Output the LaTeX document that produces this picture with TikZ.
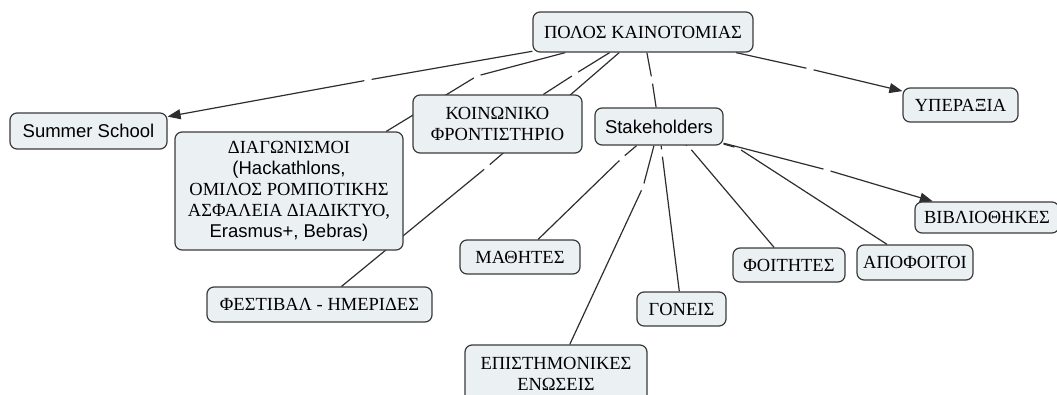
\documentclass[tikz,border=0pt]{standalone}
\usepackage{fontspec}
\setmainfont{Liberation Sans}
\newfontfamily\grk{Liberation Serif}
\usetikzlibrary{arrows.meta,backgrounds}
\definecolor{boxfill}{HTML}{EBF1F3}
\definecolor{boxline}{HTML}{3A3A3A}
\definecolor{linkline}{HTML}{2E2E2E}
\tikzset{
  concept/.style={draw=boxline, fill=boxfill, line width=1.2pt, rounded corners=7pt,
                  align=center, inner sep=0pt, font=\fontsize{18.5}{21}\selectfont},
  linkpt/.style={circle, inner sep=0pt, minimum size=7pt},
  conn/.style={draw=linkline, line width=1.2pt},
  arr/.style={conn, -{Triangle[length=13pt,width=10pt]}}
}
\begin{document}
\begin{tikzpicture}[x=1pt,y=-1pt]
  \useasboundingbox (0,0) rectangle (1057,394);
  % concepts
  \node[concept, minimum width=220pt, minimum height=40pt] (polos) at (643,32) {\grk ΠΟΛΟΣ ΚΑΙΝΟΤΟΜΙΑΣ};
  \node[concept, minimum width=115pt, minimum height=34pt] (yperaxia) at (960.5,105) {\grk ΥΠΕΡΑΞΙΑ};
  \node[concept, minimum width=128pt, minimum height=37pt] (stake) at (659,126.5) {Stakeholders};
  \node[concept, minimum width=169pt, minimum height=58pt] (koin) at (497.5,124) {\grk ΚΟΙΝΩΝΙΚΟ\\\grk ΦΡΟΝΤΙΣΤΗΡΙΟ};
  \node[concept, minimum width=157pt, minimum height=36pt] (summer) at (88.5,131) {Summer School};
  \node[concept, minimum width=228pt, minimum height=118pt] (diag) at (289,191)
    {{\grk ΔΙΑΓΩΝΙΣΜΟΙ}\\(Hackathlons,\\{\grk ΟΜΙΛΟΣ ΡΟΜΠΟΤΙΚΗΣ}\\{\grk ΑΣΦΑΛΕΙΑ ΔΙΑΔΙΚΤΥΟ,}\\Erasmus+, Bebras)};
  \node[concept, minimum width=225pt, minimum height=35pt] (fest) at (319.5,304.5) {\grk ΦΕΣΤΙΒΑΛ - ΗΜΕΡΙΔΕΣ};
  \node[concept, minimum width=120pt, minimum height=34pt] (math) at (520,257) {\grk ΜΑΘΗΤΕΣ};
  \node[concept, minimum width=182pt, minimum height=58pt] (epist) at (556,374) {\grk ΕΠΙΣΤΗΜΟΝΙΚΕΣ\\\grk ΕΝΩΣΕΙΣ};
  \node[concept, minimum width=89pt, minimum height=34pt] (goneis) at (681.5,309) {\grk ΓΟΝΕΙΣ};
  \node[concept, minimum width=112pt, minimum height=34pt] (foit) at (789,265) {\grk ΦΟΙΤΗΤΕΣ};
  \node[concept, minimum width=116pt, minimum height=35pt] (apof) at (915,262.5) {\grk ΑΠΟΦΟΙΤΟΙ};
  \node[concept, minimum width=144pt, minimum height=31pt] (vivl) at (987,217.5) {\grk ΒΙΒΛΙΟΘΗΚΕΣ};
  % empty linking phrases
  \node[linkpt] (lsummer) at (368,80) {};
  \node[linkpt] (ldiag) at (477,76) {};
  \node[linkpt] (lkoin) at (575,74) {};
  \node[linkpt] (lfest) at (487,167) {};
  \node[linkpt] (lstake) at (652,80) {};
  \node[linkpt] (lyper) at (810,69) {};
  \node[linkpt] (lvivl) at (827,170) {};
  \node[linkpt] (lmath) at (622,158) {};
  \node[linkpt] (lepist) at (643,187) {};
  \node[linkpt] (lgoneis) at (662,153) {};
  \node[linkpt] (lfoit) at (689,147) {};
  \node[linkpt] (lapof) at (738,148) {};
  % connections
  \begin{scope}[on background layer]
    \draw[conn] (polos) -- (lsummer);  \draw[arr] (lsummer) -- (summer);
    \draw[conn] (polos) -- (ldiag);    \draw[conn] (ldiag) -- (diag);
    \draw[conn] (polos) -- (lkoin);    \draw[conn] (lkoin) -- (koin);
    \draw[conn] (polos) -- (lfest);    \draw[conn] (lfest) -- (fest);
    \draw[conn] (polos) -- (lstake);   \draw[conn] (lstake) -- (stake);
    \draw[conn] (polos) -- (lyper);    \draw[arr] (lyper) -- (yperaxia);
    \draw[conn] (stake) -- (lvivl);    \draw[arr] (lvivl) -- (vivl);
    \draw[conn] (stake) -- (lmath);    \draw[conn] (lmath) -- (math);
    \draw[conn] (stake) -- (lepist);   \draw[conn] (lepist) -- (epist);
    \draw[conn] (stake) -- (lgoneis);  \draw[conn] (lgoneis) -- (goneis);
    \draw[conn] (stake) -- (lfoit);    \draw[conn] (lfoit) -- (foit);
    \draw[conn] (stake) -- (lapof);    \draw[conn] (lapof) -- (apof);
  \end{scope}
\end{tikzpicture}
\end{document}
